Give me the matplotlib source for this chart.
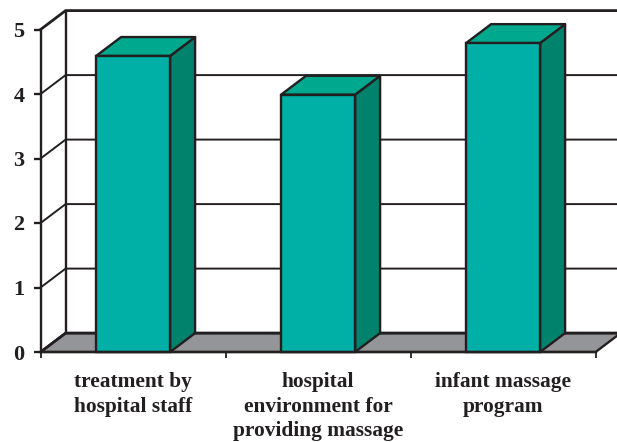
import matplotlib
matplotlib.use('Agg')
import matplotlib.pyplot as plt
from matplotlib.patches import Polygon

categories = ['treatment by\nhospital staff',
              'hospital\nenvironment for\nproviding massage',
              'infant massage\nprogram']
values = [4.59, 3.99, 4.79]
y_ticks = [0, 1, 2, 3, 4, 5]

FRONT = '#00b0a6'
TOP = '#00a88e'
SIDE = '#00826c'
FLOOR = '#939598'
INK = '#231f20'

plt.rcParams['font.family'] = ['Liberation Serif', 'DejaVu Serif']
plt.rcParams['font.weight'] = 'bold'

W, H = 617, 442
fig = plt.figure(figsize=(W / 100, H / 100), dpi=100)
ax = fig.add_axes([40.6 / W, (H - 352) / H, 555 / W, 322.5 / H])
ax.set_xlim(0, 3)
ax.set_ylim(0, 5)
ax.patch.set_visible(False)

# fake 3d depth, in data units
dx = 25 / 185
dy = 18.9 / 64.5
bar_w = 74 / 185
lw = 1.7

# floor
ax.add_patch(Polygon([(0, 0), (dx, dy), (3 + dx, dy), (3, 0)], closed=True,
                     facecolor=FLOOR, edgecolor=INK, lw=lw, clip_on=False, zorder=1))

# back wall, grid and the slanted lines on the side wall
ax.plot([dx, dx], [dy, 5 + dy], color=INK, lw=lw, clip_on=False, zorder=1.5)
for v in y_ticks:
    ax.plot([0, dx, 3 + dx], [v, v + dy, v + dy], color=INK,
            lw=1.4 if v not in (0, 5) else lw + 0.3, clip_on=False, zorder=1.5)

# bars
for i, v in enumerate(values):
    c = i + 0.5
    left = c - bar_w / 2
    right = c + bar_w / 2
    ax.add_patch(Polygon([(right, 0), (right + dx, dy), (right + dx, v + dy), (right, v)],
                         closed=True, facecolor=SIDE, edgecolor=INK, lw=lw, zorder=3,
                         joinstyle='round', clip_on=False))
    ax.add_patch(Polygon([(left, v), (left + dx, v + dy), (right + dx, v + dy), (right, v)],
                         closed=True, facecolor=TOP, edgecolor=INK, lw=lw, zorder=3,
                         joinstyle='round', clip_on=False))
    ax.bar(c, v, width=bar_w, color=FRONT, edgecolor=INK, linewidth=lw, zorder=4, clip_on=False)

for s in ['top', 'right']:
    ax.spines[s].set_visible(False)
for s in ['left', 'bottom']:
    ax.spines[s].set_linewidth(lw)
    ax.spines[s].set_color(INK)
    ax.spines[s].set_zorder(5)

ax.set_yticks(y_ticks)
ax.tick_params(axis='y', length=5, width=lw, color=INK, labelcolor=INK, labelsize=16, pad=6.5)
ax.set_xticks([0, 1, 2, 3])
ax.set_xticklabels([])
ax.tick_params(axis='x', which='major', length=4.5, width=1.3, color=INK)
ax.set_xticks([0.5, 1.5, 2.5], minor=True)
ax.set_xticklabels(categories, minor=True, fontsize=15.4, color=INK, linespacing=1.31)
ax.tick_params(axis='x', which='minor', length=0, pad=14.5)

fig.savefig('out.png', dpi=100)
